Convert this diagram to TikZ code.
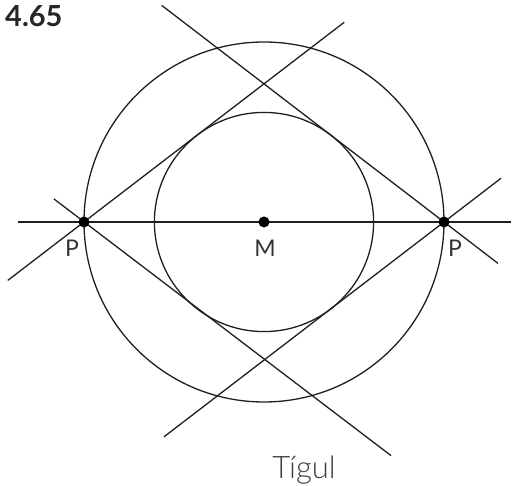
\documentclass[tikz,border=0pt]{standalone}
\usepackage{fontspec}
\setmainfont{Lato}
\newfontfamily\lightfont{Lato Light}
\begin{document}
\begin{tikzpicture}[x=1pt,y=-1pt,
  geo/.style={line width=1.3pt,draw=black!88},
  dot/.style={circle,fill=black,inner sep=0pt,minimum size=11pt},
  lbl/.style={text=black!80,font=\fontsize{23}{23}\selectfont,inner sep=0pt,anchor=base},
  title/.style={font=\bfseries\fontsize{29}{29}\selectfont,text=black!85,inner sep=0pt,anchor=base west},
  caption/.style={text=black!75,font=\lightfont\fontsize{31}{31}\selectfont,inner sep=0pt,anchor=base}]
\useasboundingbox (0,0) rectangle (514,486);
% points
\coordinate (M) at (264,222);
\coordinate (PL) at (84,222);
\coordinate (PR) at (444,222);
% circles
\draw[geo] (M) circle[radius=180];
\draw[geo] (M) circle[radius=109.6];
% line ends
\coordinate (H1) at (18,222);
\coordinate (H2) at (511,222);
\coordinate (A1) at (53.9,198.9);
\coordinate (A2) at (391,455.6);
\coordinate (B1) at (7.8,280.4);
\coordinate (B2) at (344.2,22.3);
\coordinate (C1) at (161.6,5.3);
\coordinate (C2) at (498,263.4);
\coordinate (D1) at (163.9,436.9);
\coordinate (D2) at (501.1,178.2);
\draw[geo] (H1) -- (H2);
\draw[geo] (A1) -- (A2);
\draw[geo] (B1) -- (B2);
\draw[geo] (C1) -- (C2);
\draw[geo] (D1) -- (D2);
% dots
\node[dot] (dPL) at (PL) {};
\node[dot] (dPR) at (PR) {};
\node[dot] (dM) at (M) {};
% labels
\node[lbl] (lPL) at (72,257) {P};
\node[lbl] (lM) at (265,257) {M};
\node[lbl] (lPR) at (455,257) {P};
\node[title] (t) at (5,27) {4.65};
\node[caption] (cap) at (304,478) {Tígul};
\end{tikzpicture}
\end{document}
